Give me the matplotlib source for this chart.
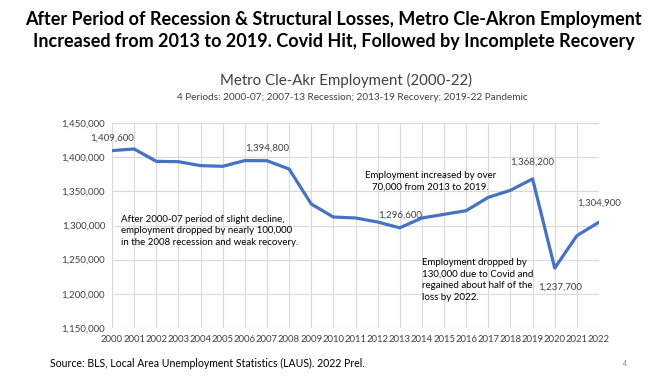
import matplotlib.pyplot as plt
from matplotlib.ticker import FuncFormatter

plt.rcParams['font.family'] = ['Lato', 'DejaVu Sans']

years = list(range(2000, 2023))
employment = [1409600, 1412000, 1393900, 1393400, 1387600, 1386600, 1395000, 1394800,
              1382700, 1331500, 1312400, 1311000, 1305100, 1296600, 1311000, 1316300,
              1321700, 1341200, 1351500, 1368200, 1237700, 1285100, 1304900]
labeled_years = [2000, 2007, 2013, 2019, 2020, 2022]
yticks = [1150000, 1200000, 1250000, 1300000, 1350000, 1400000, 1450000]

fig = plt.figure(figsize=(6.67, 3.8), dpi=100)
ax = fig.add_axes([112/667, 1-328/380, (599-112)/667, (328-123)/380])

ax.plot(years, employment, color='#4472C4', linewidth=2.3, solid_joinstyle='round', zorder=3)
ax.set_xlim(2000, 2022)
ax.set_ylim(1150000, 1450000)
ax.set_xticks(years)
ax.set_yticks(yticks)
ax.yaxis.set_major_formatter(FuncFormatter(lambda v, p: f'{int(v):,}'))
ax.grid(True, color='#D9D9D9', linewidth=0.8, zorder=0)
for s in ax.spines.values():
    s.set_visible(False)
ax.tick_params(length=0, labelsize=7, colors='#404040', pad=5)
for lab in ax.get_xticklabels():
    lab.set_fontsize(6.8)

# data labels
offsets = {2000: (0, 9), 2007: (0, 9), 2013: (0, 9), 2019: (0, 12), 2020: (4, -14), 2022: (0, 14)}
for y in labeled_years:
    v = employment[years.index(y)]
    dx, dy = offsets[y]
    ax.annotate(f'{v:,}', (y, v), xytext=(dx, dy), textcoords='offset points',
                ha='center', va='center', fontsize=7, color='#404040')

ax.text(2000.4, 1292000,
        'After 2000-07 period of slight decline,\nemployment dropped by nearly 100,000\nin the 2008 recession and weak recovery.',
        fontsize=7, color='black', va='center', ha='left', linespacing=1.35)
ax.text(2014.4, 1365000, 'Employment increased by over\n70,000 from 2013 to 2019.',
        fontsize=7, color='black', va='center', ha='center', linespacing=1.35)
ax.text(2014.0, 1220000,
        'Employment dropped by\n130,000 due to Covid and\nregained about half of the\nloss by 2022.',
        fontsize=7, color='black', va='center', ha='left', linespacing=1.35)

fig.text(0.5, 1-30.5/380,
         'After Period of Recession & Structural Losses, Metro Cle-Akron Employment\nIncreased from 2013 to 2019. Covid Hit, Followed by Incomplete Recovery',
         ha='center', va='center', fontsize=13, fontweight='bold', linespacing=1.38)
fig.text(346/667, 1-80/380, 'Metro Cle-Akr Employment (2000-22)',
         ha='center', va='center', fontsize=10.8, color='#404040')
fig.text(352/667, 1-97/380, '4 Periods: 2000-07; 2007-13 Recession; 2013-19 Recovery; 2019-22 Pandemic',
         ha='center', va='center', fontsize=7.2, color='#404040')
fig.text(50/667, 1-363/380, 'Source: BLS, Local Area Unemployment Statistics (LAUS). 2022 Prel.',
         ha='left', va='center', fontsize=7.6)
fig.text(625/667, 1-363/380, '4', ha='center', va='center', fontsize=5, color='#808080')

fig.savefig('out.png', dpi=100)
